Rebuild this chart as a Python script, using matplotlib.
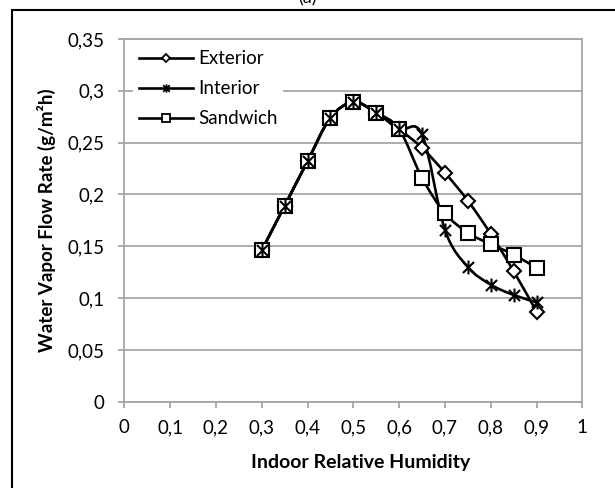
import numpy as np
import matplotlib
matplotlib.use('Agg')
import matplotlib.pyplot as plt
from matplotlib.path import Path
from matplotlib.patches import PathPatch, Rectangle
from matplotlib.lines import Line2D

# Data
humidity = [0.3, 0.35, 0.4, 0.45, 0.5, 0.55, 0.6, 0.65, 0.7, 0.75, 0.8, 0.85, 0.9]
exterior = [0.146, 0.189, 0.232, 0.274, 0.289, 0.279, 0.263, 0.245, 0.221, 0.194, 0.162, 0.126, 0.087]
interior = [0.146, 0.189, 0.232, 0.274, 0.289, 0.279, 0.263, 0.258, 0.166, 0.130, 0.113, 0.103, 0.096]
sandwich = [0.146, 0.189, 0.232, 0.274, 0.289, 0.279, 0.263, 0.216, 0.182, 0.163, 0.152, 0.142, 0.129]

x_ticks = [0, 0.1, 0.2, 0.3, 0.4, 0.5, 0.6, 0.7, 0.8, 0.9, 1]
y_ticks = [0, 0.05, 0.1, 0.15, 0.2, 0.25, 0.3, 0.35]

FONT = ['Lato', 'DejaVu Sans']
GRID = '#a6a6a6'
plt.rcParams['font.family'] = FONT

# Excel style "star" marker: an X with a vertical bar through it
STAR = Path([(-0.8, -0.8), (0.8, 0.8), (-0.8, 0.8), (0.8, -0.8), (0, -1), (0, 1)],
            [Path.MOVETO, Path.LINETO, Path.MOVETO, Path.LINETO,
             Path.MOVETO, Path.LINETO])


def fmt(v):
    # decimal comma like the original
    return ('%g' % v).replace('.', ',')


def smooth_path(xs, ys):
    """Excel-like smoothed line: cubic Bezier through every point."""
    pts = np.column_stack([xs, ys]).astype(float)
    n = len(pts)
    verts = [pts[0]]
    codes = [Path.MOVETO]
    for i in range(n - 1):
        p0 = pts[i - 1] if i > 0 else pts[i]
        p1 = pts[i]
        p2 = pts[i + 1]
        p3 = pts[i + 2] if i + 2 < n else pts[i + 1]
        c1 = p1 + (p2 - p0) / 6.0
        c2 = p2 - (p3 - p1) / 6.0
        verts += [c1, c2, p2]
        codes += [Path.CURVE4] * 3
    return Path(verts, codes)


fig = plt.figure(figsize=(6.15, 4.88), dpi=100, facecolor='white')
ax = fig.add_axes([124.3 / 615, 1 - 401.7 / 488, 458 / 615, 362.7 / 488])

series = [
    ('Exterior', exterior, 'D', 7.2, 3),
    ('Interior', interior, STAR, 10, 4),
    ('Sandwich', sandwich, 's', 10, 3),
]

handles = []
for name, vals, mk, ms, z in series:
    ax.add_patch(PathPatch(smooth_path(humidity, vals), facecolor='none',
                           edgecolor='black', lw=1.9, zorder=2))
    ax.plot(humidity, vals, linestyle='none', marker=mk, markersize=ms,
            markerfacecolor='white', markeredgecolor='black',
            markeredgewidth=1.5, zorder=z)
    handles.append(Line2D([], [], color='black', lw=1.9, marker=mk,
                          markersize=ms * 0.6, markerfacecolor='white',
                          markeredgecolor='black', markeredgewidth=1.3,
                          label=name))

ax.set_xlim(0, 1)
ax.set_ylim(0, 0.35)
ax.set_xticks(x_ticks)
ax.set_yticks(y_ticks)
ax.set_xticklabels([fmt(v) for v in x_ticks])
ax.set_yticklabels([fmt(v) for v in y_ticks])
ax.yaxis.grid(True, color=GRID, lw=1.3)
ax.set_axisbelow(True)
for sp in ax.spines.values():
    sp.set_color(GRID)
    sp.set_linewidth(1.3)
ax.tick_params(axis='both', direction='out', length=4.5, width=1.3,
               color=GRID, labelsize=13.5, labelcolor='black')
ax.tick_params(axis='y', pad=10)
ax.tick_params(axis='x', pad=8)

ax.set_xlabel('Indoor Relative Humidity', fontsize=14, fontweight='bold',
              labelpad=13)
ax.xaxis.set_label_coords(0.515, -0.145)
ax.set_ylabel('Water Vapor Flow Rate (g/m\u00b2h)', fontsize=13.5,
              fontweight='bold', labelpad=8)

leg = ax.legend(handles=handles, loc='upper left', bbox_to_anchor=(0.02, 0.985),
                fontsize=13.5, frameon=True, facecolor='white', edgecolor='white',
                framealpha=1, handlelength=2.9, handletextpad=0.25,
                labelspacing=0.7, borderpad=0.3, borderaxespad=0)
leg.get_frame().set_linewidth(0)

# outer chart border (cropped at right and bottom) and panel label
fig.add_artist(Rectangle((12 / 615, -0.1), 1.2, 1.1 - 9.5 / 488,
                         transform=fig.transFigure, fill=False,
                         edgecolor='black', lw=1.5))
fig.text(0.5, 1.004, '(a)', ha='center', va='center', fontsize=13)

fig.savefig('out.png', dpi=100)
